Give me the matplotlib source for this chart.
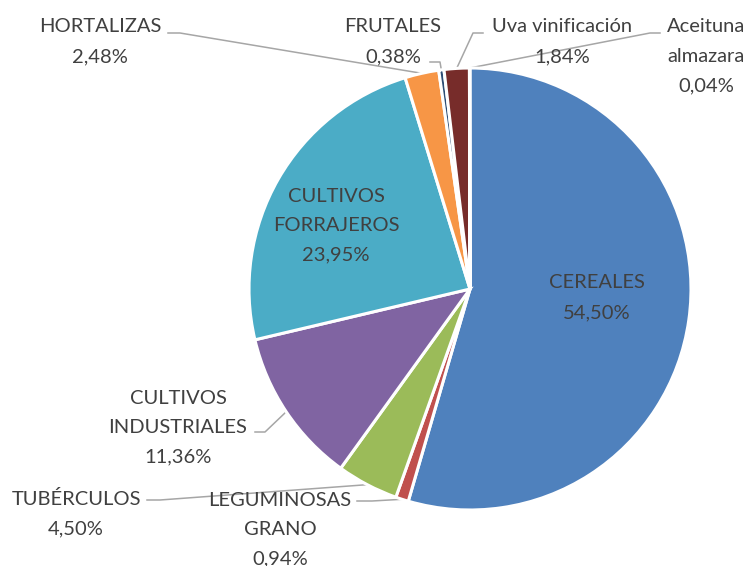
import matplotlib.pyplot as plt
import numpy as np

# data
cultivos = ['CEREALES', 'LEGUMINOSAS\nGRANO', 'TUBÉRCULOS', 'CULTIVOS\nINDUSTRIALES',
            'CULTIVOS\nFORRAJEROS', 'HORTALIZAS', 'FRUTALES', 'Uva vinificación',
            'Aceituna\nalmazara']
porcentajes = [54.50, 0.94, 4.50, 11.36, 23.95, 2.48, 0.38, 1.84, 0.04]
colores = ['#4F81BD', '#C0504D', '#9BBB59', '#8064A2', '#4BACC6', '#F79646',
           '#2C4D75', '#772C2A', '#5F7530']

W, H = 752, 566
cx, cy, r = 470, 289, 221

# label layout in pixel coords (x center, y of first line)
# plus leader line: label-side points (None = label inside slice)
layout = [
    ((597, 283), None),
    ((280, 500), [(357, 501), (372, 501)]),
    ((76, 499), [(147, 500), (160, 500)]),
    ((178, 398), [(255, 432), (265, 432)]),
    ((336, 196), None),
    ((100, 27), [(168, 33), (180, 33)]),
    ((393, 27), [(430, 62), (440, 62)]),
    ((562, 27), [(483, 33), (473, 33)]),
    ((706, 27), [(660, 33), (650, 33)]),
]
gap = 29.5

plt.rcParams['font.family'] = ['Lato', 'DejaVu Sans']

def py(y):
    return H - y

fig = plt.figure(figsize=(W / 100, H / 100), dpi=100)
ax = fig.add_axes([0, 0, 1, 1])

ax.pie(porcentajes, colors=colores, startangle=90, counterclock=False,
       center=(cx, py(cy)), radius=r, frame=True,
       wedgeprops=dict(edgecolor='white', linewidth=2.2))
ax.set_xlim(0, W)
ax.set_ylim(0, H)
ax.axis('off')

total = sum(porcentajes)
acum = 0
for nombre, p, (pos, leader) in zip(cultivos, porcentajes, layout):
    mid = acum + p / 2
    acum += p
    ang = np.deg2rad(90 - 360 * mid / total)
    lineas = nombre.split('\n') + [('%.2f%%' % p).replace('.', ',')]
    x0, y0 = pos
    for k, t in enumerate(lineas):
        ax.text(x0, py(y0 + k * gap), t, ha='center', va='center',
                fontsize=14.5, color='#404040')
    if leader:
        ex = cx + r * np.cos(ang)
        ey = py(cy) + r * np.sin(ang)
        xs = [leader[0][0], leader[1][0], ex]
        ys = [py(leader[0][1]), py(leader[1][1]), ey]
        ax.plot(xs, ys, color='#A6A6A6', lw=1.1, zorder=0.5)

fig.savefig('out.png', dpi=100)
